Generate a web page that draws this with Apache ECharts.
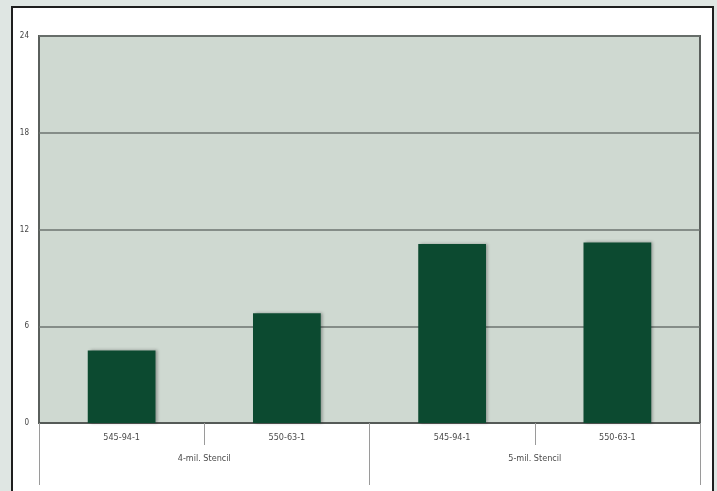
<!DOCTYPE html>
<html>
<head>
<meta charset="utf-8">
<script src="https://cdn.jsdelivr.net/npm/echarts@6/dist/echarts.min.js"></script>
<style>
  html, body { margin: 0; padding: 0; background: #dfe6e3; }
  #panel {
    position: absolute; left: 11px; top: 6px; width: 703px; height: 500px;
    background: #ffffff; border: 2px solid #1e1e1e; box-sizing: border-box;
  }
  #chart { position: absolute; left: 0; top: 0; width: 717px; height: 491px; }
</style>
</head>
<body>
<div id="panel"></div>
<div id="chart"></div>
<script>
// Paste samples, grouped by stencil thickness
const samples = ['545-94-1', '550-63-1', '545-94-1', '550-63-1'];
const stencils = ['4-mil. Stencil', '5-mil. Stencil'];
const values = [4.5, 6.8, 11.1, 11.2];
const yTicks = [0, 6, 12, 18, 24];

const labelFont = "'Liberation Sans Narrow', 'DejaVu Sans Condensed', 'Liberation Sans', sans-serif";

const chart = echarts.init(document.getElementById('chart'), null, { renderer: 'canvas' });
chart.setOption({
  backgroundColor: 'transparent',
  animation: false,
  grid: {
    left: 39, top: 36, width: 661, height: 387,
    show: true, backgroundColor: '#cfd9d1', borderColor: '#5a5f5c', borderWidth: 2
  },
  xAxis: [
    {
      type: 'category', data: samples, position: 'bottom',
      axisLine: { show: true, lineStyle: { color: '#555a57', width: 2 } },
      axisTick: { show: true, alignWithLabel: false, length: 22, lineStyle: { color: '#9a9a9a' } },
      axisLabel: { color: '#4a4a4a', fontSize: 9, fontFamily: labelFont, margin: 10 }
    },
    {
      type: 'category', data: stencils, position: 'bottom', offset: 0,
      axisLine: { show: false },
      axisTick: { show: true, length: 62, lineStyle: { color: '#9a9a9a' } },
      axisLabel: { color: '#4a4a4a', fontSize: 9, fontFamily: labelFont, margin: 31 }
    }
  ],
  yAxis: {
    type: 'value', min: yTicks[0], max: yTicks[yTicks.length - 1], interval: 6,
    axisLine: { show: false },
    axisTick: { show: false },
    axisLabel: { color: '#444', fontSize: 8, fontFamily: labelFont, margin: 10 },
    splitLine: { show: true, lineStyle: { color: '#6c736f', width: 1.5 } }
  },
  series: [{
    type: 'bar', data: values, xAxisIndex: 0, barWidth: '41%',
    itemStyle: {
      color: '#0c4a30',
      shadowColor: 'rgba(0,0,0,0.3)', shadowBlur: 3, shadowOffsetX: 2
    }
  }]
});
</script>
</body>
</html>
